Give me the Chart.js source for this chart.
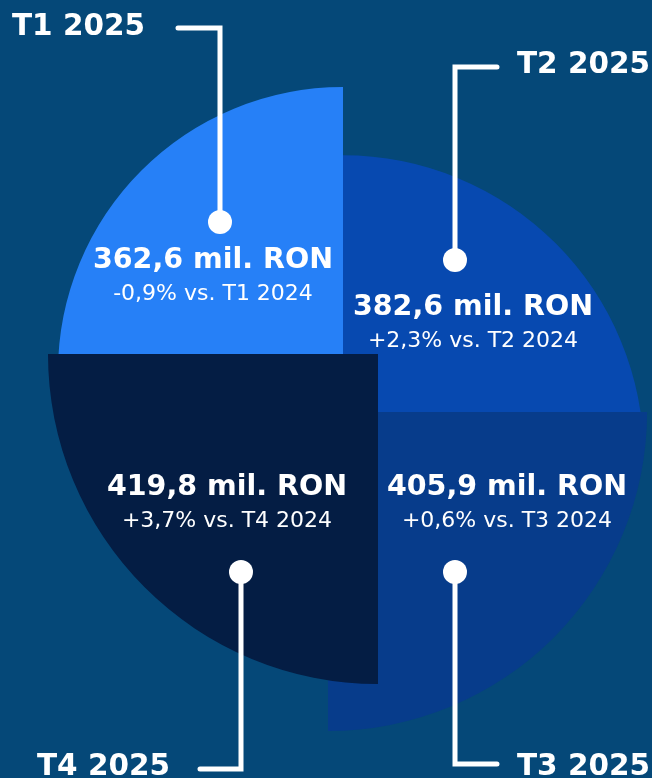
<!DOCTYPE html>
<html>
<head>
<meta charset="utf-8">
<script src="https://cdn.jsdelivr.net/npm/chart.js@4/dist/chart.umd.min.js"></script>
<style>
  html, body { margin: 0; padding: 0; background: #054878; }
  #wrap { width: 652px; height: 778px; position: relative; }
  canvas { display: block; }
</style>
</head>
<body>
<div id="wrap"><canvas id="c" width="652" height="778"></canvas></div>
<script>
// ---- data ----
const quarters = ['T1 2025', 'T2 2025', 'T3 2025', 'T4 2025'];
const revenue = [362.6, 382.6, 405.9, 419.8];          // mil. RON
const changeVsPrev = [-0.9, 2.3, 0.6, 3.7];             // % vs same quarter 2024
const prevQuarters = ['T1 2024', 'T2 2024', 'T3 2024', 'T4 2024'];

// ---- styles / layout ----
const sliceColors = ['#2680f7', '#0749b0', '#073c8b', '#041d44'];
const sliceShift = [ {dx: 17, dy: -17}, {dx: 17, dy: 67}, {dx: 2, dy: 23}, {dx: 52, dy: -35} ];
const valueText = [ {x: 213, y: 268}, {x: 473, y: 315}, {x: 507, y: 495}, {x: 227, y: 495} ];
const callouts = [
  {dot: [220, 222], bendY: 28,  endX: 178, labelX: 12,  labelY: 35,  align: 'left'},
  {dot: [455, 260], bendY: 67,  endX: 497, labelX: 517, labelY: 73,  align: 'left'},
  {dot: [455, 572], bendY: 764, endX: 497, labelX: 517, labelY: 775, align: 'left'},
  {dot: [241, 572], bendY: 769, endX: 200, labelX: 37,  labelY: 775, align: 'left'}
];
const FONT = '"DejaVu Sans", Verdana, sans-serif';

const fmtNum = v => v.toFixed(1).replace('.', ',');
const fmtPct = v => (v > 0 ? '+' : '') + fmtNum(v) + '%';

const shiftPlugin = {
  id: 'shiftSlices',
  afterDatasetsUpdate(chart) {
    const meta = chart.getDatasetMeta(0);
    meta.data.forEach((arc, i) => {
      arc.x += sliceShift[i].dx;
      arc.y += sliceShift[i].dy;
    });
  }
};

const labelPlugin = {
  id: 'labels',
  afterDatasetsDraw(chart) {
    const ctx = chart.ctx;
    ctx.save();
    // value texts
    ctx.fillStyle = '#ffffff';
    ctx.textAlign = 'center';
    ctx.textBaseline = 'alphabetic';
    revenue.forEach((v, i) => {
      const p = valueText[i];
      ctx.font = 'bold 28.5px ' + FONT;
      ctx.fillText(fmtNum(v) + ' mil. RON', p.x, p.y);
      ctx.font = '22px ' + FONT;
      ctx.fillText(fmtPct(changeVsPrev[i]) + ' vs. ' + prevQuarters[i], p.x, p.y + 32);
    });
    // callouts
    ctx.strokeStyle = '#ffffff';
    ctx.lineWidth = 5;
    ctx.lineCap = 'round';
    ctx.lineJoin = 'miter';
    callouts.forEach((c, i) => {
      ctx.beginPath();
      ctx.moveTo(c.dot[0], c.dot[1]);
      ctx.lineTo(c.dot[0], c.bendY);
      ctx.lineTo(c.endX, c.bendY);
      ctx.stroke();
      ctx.beginPath();
      ctx.arc(c.dot[0], c.dot[1], 12, 0, Math.PI * 2);
      ctx.fill();
      ctx.font = 'bold 29.5px ' + FONT;
      ctx.textAlign = c.align;
      ctx.fillText(quarters[i], c.labelX, c.labelY);
    });
    ctx.restore();
  }
};

new Chart(document.getElementById('c'), {
  type: 'polarArea',
  data: {
    labels: quarters,
    datasets: [{
      data: revenue,
      backgroundColor: sliceColors,
      borderWidth: 0
    }]
  },
  options: {
    responsive: false,
    animation: false,
    layout: { padding: 0 },
    plugins: { legend: { display: false }, tooltip: { enabled: false } },
    scales: {
      r: {
        display: false,
        min: 0,
        max: 414.7,
        startAngle: -90,
        ticks: { display: false },
        grid: { display: false },
        angleLines: { display: false },
        pointLabels: { display: false }
      }
    }
  },
  plugins: [shiftPlugin, labelPlugin]
});
</script>
</body>
</html>
